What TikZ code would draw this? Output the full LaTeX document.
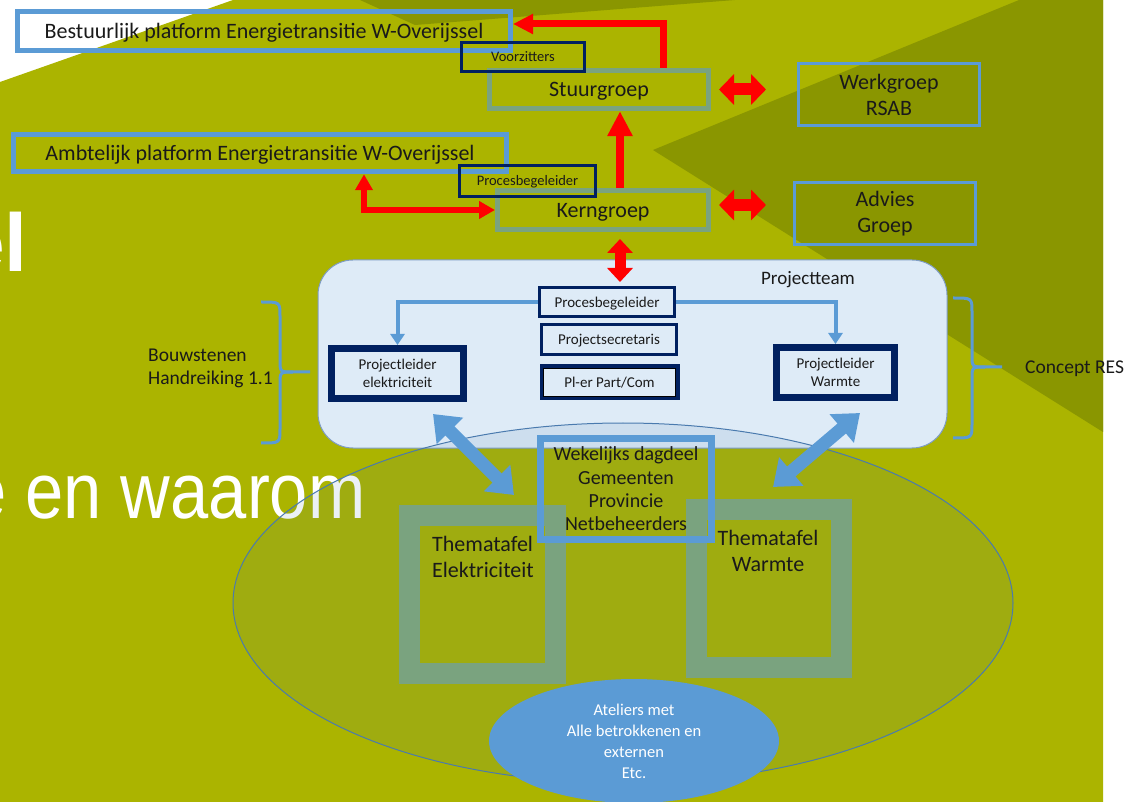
\documentclass[tikz,border=0pt]{standalone}
\usepackage{fontspec}
\setmainfont{Carlito}
\newfontfamily\titlefont{Liberation Sans}
\usetikzlibrary{arrows.meta,calc,shapes.geometric}
\definecolor{bgolive}{HTML}{ABB400}
\definecolor{bgdark}{HTML}{8A9600}
\definecolor{boxblue}{HTML}{5B9BD5}
\definecolor{navy}{HTML}{002060}
\definecolor{tgreen}{HTML}{7AA37F}
\definecolor{teamfill}{HTML}{DEEBF7}
\definecolor{teamborder}{HTML}{7F9DC4}
\definecolor{ellborder}{HTML}{4A7AAE}
\definecolor{ellfill}{HTML}{3F6F9F}
\definecolor{arrred}{HTML}{FF0000}
\definecolor{txt}{HTML}{1A1A1A}
\newcommand{\fs}[2]{\fontsize{#1}{#2}\selectfont}
\begin{document}
\begin{tikzpicture}[x=1pt,y=-1pt,
  lineA/.style={text height=19.8pt, text depth=4.8pt},
  lineB/.style={text height=13.1pt, text depth=3.2pt},
  lineC/.style={text height=13.5pt, text depth=3.3pt},
  lineD/.style={text height=17.3pt, text depth=4.2pt},
  bluebox/.style={draw=boxblue, line width=5pt, inner sep=0, text=txt, align=center},
  thinblue/.style={draw=boxblue, line width=3pt, inner sep=0, text=txt, align=center},
  navybox/.style={draw=navy, line width=3pt, inner sep=0, text=txt, align=center},
  greenbox/.style={draw=tgreen, line width=5pt, inner sep=0, text=txt, align=center},
  leaderbox/.style={draw=navy, line width=7pt, inner sep=0, text=txt, align=center},
  tafel/.style={draw=tgreen, line width=21pt, inner sep=0},
  lbl/.style={inner sep=0, text=txt},
  redarrow/.style={draw=arrred, line width=#1},
  blueconn/.style={draw=boxblue, line width=4pt, -{Triangle[width=14pt,length=11pt]}},
  bigblue/.style={draw=boxblue, line width=13pt, {Triangle[width=36pt,length=24pt]}-{Triangle[width=36pt,length=24pt]}},
  bracestyle/.style={draw=boxblue, line width=3pt},
]
\useasboundingbox (0,0) rectangle (1128,802);
\clip (0,0) rectangle (1128,802);
% background
\fill[white] (0,0) rectangle (1128,802);
\fill[bgolive] (0,82) -- (233,0) -- (1103,0) -- (1103,802) -- (0,802) -- cycle;
\fill[bgdark] (360,0) -- (415,25) -- (735,0) -- cycle;
\fill[bgdark] (653,150) -- (1019,0) -- (1103,0) -- (1103,432) -- cycle;
% slide title fragments
\node[anchor=base west, inner sep=0, text=white, font=\titlefont\bfseries\fs{82}{82}] (ttlA) at (-41,272) {el};
\node[anchor=base west, inner sep=0, text=white, font=\titlefont\fs{79}{79}] (ttlB) at (-32,518) {\scalebox{0.87}[1]{e en waarom}};

% top boxes
\node[bluebox, lineA, minimum width=493pt, minimum height=39pt, font=\fs{22}{26}] (best) at (264,31) {Bestuurlijk platform Energietransitie W-Overijssel};
\node[bluebox, lineA, minimum width=493pt, minimum height=37.5pt, font=\fs{22}{26}] (amb) at (260,153) {Ambtelijk platform Energietransitie W-Overijssel};
\node[greenbox, lineA, minimum width=219pt, minimum height=38.5pt, font=\fs{22}{26}] (stuur) at (599,89.5) {Stuurgroep};
\node[greenbox, lineA, minimum width=211pt, minimum height=39pt, font=\fs{22}{26}] (kern) at (603,210) {Kerngroep};
\node[navybox, lineB, minimum width=123pt, minimum height=29pt, font=\fs{14.5}{17}] (voorz) at (523,57) {Voorzitters};
\node[navybox, lineB, minimum width=136pt, minimum height=31pt, font=\fs{14.5}{17}] (pbA) at (527.5,181) {Procesbegeleider};
\node[thinblue, minimum width=181pt, minimum height=62pt, font=\fs{22}{26}] (werk) at (889,94.5) {Werkgroep\\RSAB};
\node[thinblue, minimum width=181pt, minimum height=62pt, font=\fs{22}{26}] (adv) at (885,213.5) {Advies\\Groep};

% project team
\node[draw=teamborder, fill=teamfill, rounded corners=35pt, line width=1pt, minimum width=629pt, minimum height=188pt, inner sep=0] (team) at (632.5,354) {};
\node[lbl, lineD, font=\fs{19}{22}] (teamlbl) at (808,278) {Projectteam};
\node[navybox, lineC, minimum width=135pt, minimum height=29pt, font=\fs{15}{18}] (pbB) at (607,302) {Procesbegeleider};
\node[navybox, lineC, minimum width=135pt, minimum height=30pt, font=\fs{15}{18}] (psec) at (609,339.5) {Projectsecretaris};
\node[draw=navy, lineC, line width=4pt, minimum width=136pt, minimum height=32pt, inner sep=0, text=txt, font=\fs{15}{18}] (pler) at (609.5,382.5) {Pl-er Part/Com};
\draw[black, line width=1.3pt] ([shift={(4.2pt,-4.2pt)}]pler.north west) rectangle ([shift={(-4.2pt,4.2pt)}]pler.south east);
\node[leaderbox, minimum width=132pt, minimum height=50pt, font=\fs{15}{18}] (ple) at (397.5,373.5) {Projectleider\\elektriciteit};
\node[leaderbox, minimum width=118pt, minimum height=50pt, font=\fs{15}{18}] (plw) at (835.5,372.5) {Projectleider\\Warmte};
\draw[blueconn] (pbB.west) -| (ple.north);
\draw[blueconn] (pbB.east) -| (plw.north);

% big ellipse
\draw[draw=ellborder, line width=1pt, fill=ellfill, fill opacity=0.1] (623,603) ellipse [x radius=390, y radius=180];

% theme tables
\node[tafel, minimum width=145.5pt, minimum height=157.5pt] (tE) at (482.25,594.25) {};
\node[tafel, minimum width=145pt, minimum height=157.5pt] (tW) at (769,588.25) {};
\node[lbl, anchor=west, align=left, font=\fs{22}{26}] (tEtxt) at (432,557) {Thematafel\\Elektriciteit};
\node[lbl, align=center, font=\fs{22}{26}] (tWtxt) at (768,551) {Thematafel\\Warmte};
\node[draw=boxblue, line width=7pt, minimum width=171pt, minimum height=101pt, inner sep=0, align=center, text=txt, font=\fs{20}{23.3}] (wek) at (626,489) {Wekelijks dagdeel\\Gemeenten\\Provincie\\Netbeheerders};

% blue block arrows
\coordinate (baA) at (433,414);
\coordinate (baB) at (514,495);
\coordinate (baC) at (860,413);
\coordinate (baD) at (773,487);
\draw[bigblue] (baA) -- (baB);
\draw[bigblue] (baC) -- (baD);

% ateliers
\node[ellipse, fill=boxblue, minimum width=290pt, minimum height=124pt, inner sep=0, text=white, align=center, font=\fs{16.5}{21}] (atel) at (634,741) {Ateliers met\\Alle betrokkenen en\\externen\\Etc.};

% red arrows
\coordinate (vx) at (620,0);
\coordinate (ax) at (364,0);
\draw[redarrow=7pt, -{Triangle[width=19pt,length=20pt]}] ([xshift=-48pt]stuur.north east) |- ([yshift=7pt]best.east);
\draw[redarrow=8pt, -{Triangle[width=24pt,length=25pt]}] (kern.north -| vx) -- (stuur.south -| vx);
\draw[redarrow=6pt, {Triangle[width=17pt,length=16pt]}-{Triangle[width=17pt,length=16pt]}] (amb.south -| ax) |- (kern.west);
\draw[redarrow=12pt, {Triangle[width=30pt,length=15pt]}-{Triangle[width=30pt,length=15pt]}, shorten <=8pt, shorten >=31pt] (stuur.east) -- (stuur.east -| werk.west);
\coordinate (kfive) at ($(kern.east)+(0,-5)$);
\draw[redarrow=12pt, {Triangle[width=30pt,length=15pt]}-{Triangle[width=30pt,length=15pt]}, shorten <=8pt, shorten >=27pt] (kfive) -- (kfive -| adv.west);
\draw[redarrow=11pt, {Triangle[width=25pt,length=14pt]}-{Triangle[width=25pt,length=14pt]}, shorten <=7pt, shorten >=4pt] (kern.south -| vx) -- (pbB.north -| vx);

% braces
\draw[bracestyle] (261,302) .. controls (280,302) .. (280,316) -- (280,360) .. controls (280,372) .. (293,372) -- (310,372);
\draw[bracestyle] (261,443) .. controls (280,443) .. (280,429) -- (280,384) .. controls (280,372) .. (293,372);
\draw[bracestyle] (953,298) .. controls (972,298) .. (972,312) -- (972,355) .. controls (972,367) .. (985,367) -- (1002,367);
\draw[bracestyle] (953,438) .. controls (972,438) .. (972,424) -- (972,379) .. controls (972,367) .. (985,367);
\node[lbl, anchor=west, align=left, font=\fs{19.5}{23}] (bouw) at (148,368) {Bouwstenen\\Handreiking 1.1};
\node[lbl, lineD, anchor=west, font=\fs{19.5}{23}] (concept) at (1025,367) {Concept RES};
\end{tikzpicture}
\end{document}
